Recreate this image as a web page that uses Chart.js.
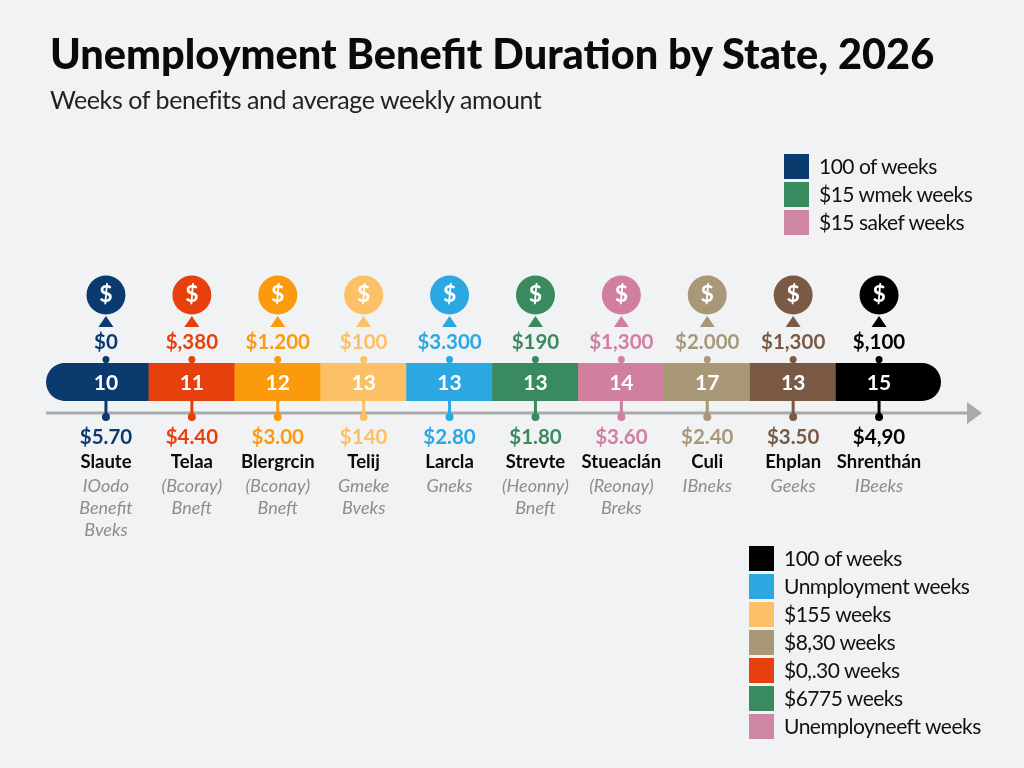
<!DOCTYPE html>
<html>
<head>
<meta charset="utf-8">
<title>Unemployment Benefit Duration by State, 2026</title>
<script src="https://cdn.jsdelivr.net/npm/chart.js@4/dist/chart.umd.min.js"></script>
<style>
  body { margin: 0; background: #f0f2f4; font-family: Lato, sans-serif; color: #111; }
  #wrap { position: relative; width: 1024px; height: 768px; overflow: hidden; }
  canvas { position: absolute; left: 0; top: 0; }
  h1 { position: absolute; left: 50px; top: 28px; margin: 0; font-size: 41.5px; font-weight: 900; color: #0a0a0a; white-space: nowrap; }
  h2 { position: absolute; left: 50px; top: 84px; margin: 0; font-size: 25px; letter-spacing: -0.42px; font-weight: 400; color: #222; white-space: nowrap; }
  .legend { position: absolute; }
  .legend div { height: 28px; display: flex; align-items: center; font-size: 21px; letter-spacing: -0.5px; white-space: nowrap; }
  .legend i { display: block; width: 25px; height: 25px; margin-right: 10px; }
  .legend span { position: relative; top: -1px; }
</style>
</head>
<body>
<div id="wrap">
  <canvas id="timeline" width="1024" height="768"></canvas>
  <h1>Unemployment Benefit Duration by State, 2026</h1>
  <h2>Weeks of benefits and average weekly amount</h2>
  <div class="legend" id="legendTop" style="left:784px;top:152px"></div>
  <div class="legend" id="legendBottom" style="left:749px;top:544px"></div>
</div>
<script>
const states = ['Slaute', 'Telaa', 'Blergrcin', 'Telij', 'Larcla', 'Strevte', 'Stueaclán', 'Culi', 'Ehplan', 'Shrenthán'];
const weeks = [10, 11, 12, 13, 13, 13, 14, 17, 13, 15];
const topAmounts = ['$0', '$,380', '$1.200', '$100', '$3.300', '$190', '$1,300', '$2.000', '$1,300', '$,100'];
const bottomAmounts = ['$5.70', '$4.40', '$3.00', '$140', '$2.80', '$1.80', '$3.60', '$2.40', '$3.50', '$4,90'];
const notes = [
  ['IOodo', 'Benefit', 'Bveks'],
  ['(Bcoray)', 'Bneft'],
  ['(Bconay)', 'Bneft'],
  ['Gmeke', 'Bveks'],
  ['Gneks'],
  ['(Heonny)', 'Bneft'],
  ['(Reonay)', 'Breks'],
  ['IBneks'],
  ['Geeks'],
  ['IBeeks']
];
const colors = ['#0b3a6f', '#e8400c', '#fb9a0c', '#fcc066', '#2ba8e2', '#3a8a5f', '#d07f9f', '#a89878', '#7a5a45', '#000000'];

const legendTopLabels = ['100 of weeks', '$15 wmek weeks', '$15 sakef weeks'];
const legendTopColors = ['#0b3a6f', '#3a8a5f', '#cf86a4'];
const legendBottomLabels = ['100 of weeks', 'Unmployment weeks', '$155 weeks', '$8,30 weeks', '$0,.30 weeks', '$6775 weeks', 'Unemployneeft weeks'];
const legendBottomColors = ['#000000', '#2ba8e2', '#fcc066', '#a89878', '#e8400c', '#3a8a5f', '#cf86a4'];

function fillLegend(id, labels, swatches) {
  const box = document.getElementById(id);
  labels.forEach((label, i) => {
    const row = document.createElement('div');
    const swatch = document.createElement('i');
    const text = document.createElement('span');
    swatch.style.background = swatches[i];
    text.textContent = label;
    row.appendChild(swatch);
    row.appendChild(text);
    box.appendChild(row);
  });
}
fillLegend('legendTop', legendTopLabels, legendTopColors);
fillLegend('legendBottom', legendBottomLabels, legendBottomColors);

// rounded ends of the band, they stick out past the first and last category
const bandCaps = {
  id: 'bandCaps',
  beforeDatasetsDraw(chart) {
    const { ctx, chartArea } = chart;
    const h = chartArea.bottom - chartArea.top;
    ctx.save();
    ctx.fillStyle = colors[0];
    ctx.beginPath();
    ctx.roundRect(46, chartArea.top, chartArea.left - 46 + 2, h, [19, 0, 0, 19]);
    ctx.fill();
    ctx.fillStyle = colors[colors.length - 1];
    ctx.beginPath();
    ctx.roundRect(chartArea.right - 2, chartArea.top, 941 - chartArea.right + 2, h, [0, 19, 19, 0]);
    ctx.fill();
    ctx.restore();
  }
};

// axis arrow, stems, markers and all the labels around the band
const timelineMarks = {
  id: 'timelineMarks',
  afterDraw(chart) {
    const { ctx } = chart;
    const x = chart.scales.x;
    ctx.save();
    ctx.strokeStyle = '#a9abab';
    ctx.fillStyle = '#a9abab';
    ctx.lineWidth = 3;
    ctx.beginPath();
    ctx.moveTo(46, 413);
    ctx.lineTo(970, 413);
    ctx.stroke();
    ctx.beginPath();
    ctx.moveTo(967, 402);
    ctx.lineTo(982, 413);
    ctx.lineTo(967, 424);
    ctx.closePath();
    ctx.fill();

    ctx.textAlign = 'center';
    ctx.textBaseline = 'middle';
    states.forEach((state, i) => {
      const px = x.getPixelForValue(i);
      const c = colors[i];

      ctx.fillStyle = c;
      ctx.beginPath();
      ctx.arc(px, 295, 19.5, 0, Math.PI * 2);
      ctx.fill();
      ctx.fillStyle = '#fff';
      ctx.font = '700 23px Lato';
      ctx.fillText('$', px, 295);

      ctx.fillStyle = c;
      ctx.beginPath();
      ctx.moveTo(px, 316);
      ctx.lineTo(px + 7.5, 327);
      ctx.lineTo(px - 7.5, 327);
      ctx.closePath();
      ctx.fill();

      ctx.font = '700 20.5px Lato';
      ctx.fillText(topAmounts[i], px, 342);

      ctx.strokeStyle = c;
      ctx.lineWidth = 3;
      ctx.beginPath();
      ctx.moveTo(px, 359);
      ctx.lineTo(px, 364);
      ctx.moveTo(px, 401);
      ctx.lineTo(px, 417);
      ctx.stroke();
      ctx.beginPath();
      ctx.arc(px, 359.5, 3.5, 0, Math.PI * 2);
      ctx.arc(px, 417, 4, 0, Math.PI * 2);
      ctx.fill();

      ctx.fillStyle = '#fff';
      ctx.font = '700 21px Lato';
      ctx.fillText(String(weeks[i]), px, 383);

      ctx.fillStyle = c;
      ctx.font = '700 20.5px Lato';
      ctx.fillText(bottomAmounts[i], px, 437);

      ctx.fillStyle = '#0a0a0a';
      ctx.font = '700 18.5px Lato';
      ctx.fillText(state, px, 462);

      ctx.fillStyle = '#8b8d8f';
      ctx.font = 'italic 400 18px Lato';
      notes[i].forEach((line, n) => ctx.fillText(line, px, 486 + n * 22));
    });
    ctx.restore();
  }
};

new Chart(document.getElementById('timeline'), {
  type: 'bar',
  data: {
    labels: states,
    datasets: [{
      label: 'Weeks of benefits',
      data: weeks.map(() => [0, 1]),
      backgroundColor: colors,
      borderWidth: 0,
      barPercentage: 1,
      categoryPercentage: 1
    }]
  },
  options: {
    responsive: false,
    animation: false,
    layout: { padding: { left: 63, right: 102, top: 363, bottom: 367 } },
    plugins: { legend: { display: false }, tooltip: { enabled: false } },
    scales: {
      x: { display: false, offset: true },
      y: { display: false, min: 0, max: 1 }
    }
  },
  plugins: [bandCaps, timelineMarks]
});
</script>
</body>
</html>
